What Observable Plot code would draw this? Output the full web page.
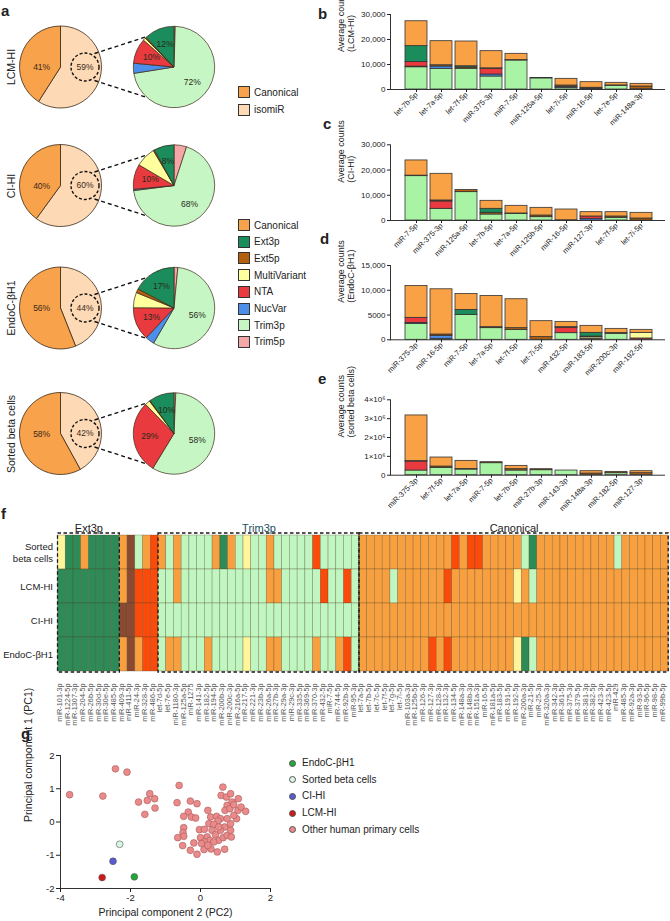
<!DOCTYPE html>
<html><head><meta charset="utf-8">
<script src="https://cdn.jsdelivr.net/npm/d3@7"></script>
<script src="https://cdn.jsdelivr.net/npm/@observablehq/plot@0.6"></script>
<style>
body{margin:0;background:#fff;font-family:"Liberation Sans",Arial,Helvetica,sans-serif;color:#222;}
#root{position:relative;width:670px;height:921px;overflow:hidden;background:#fff;}
#root svg{overflow:visible;}
.t{position:absolute;white-space:nowrap;line-height:1;}
.sw{position:absolute;width:12px;height:12px;border:1px solid #333;box-sizing:border-box;}
.dotl{position:absolute;width:7px;height:7px;border-radius:50%;box-sizing:border-box;border:0.7px solid #555;}
</style></head><body><div id="root"></div>
<script>
// ---------------- DATA ----------------
const legendTypes = ["Canonical","Ext3p","Ext5p","MultiVariant","NTA","NucVar","Trim3p","Trim5p"];
const stackTypes = ["Trim3p","Trim5p","NucVar","NTA","MultiVariant","Ext5p","Ext3p","Canonical"]; // bottom -> top

// panel a
const pieSamples = ["LCM-HI","CI-HI","EndoC-βH1","Sorted beta cells"];
const canonicalPct = [41, 40, 56, 58];
const isomirPct = [59, 60, 44, 42];
const isoTypes = ["Ext3p","Ext5p","MultiVariant","NTA","NucVar","Trim3p","Trim5p"];
const isoLCM = [12, 0.5, 1, 10, 4, 72, 0.5];
const isoCI = [8, 0.5, 8, 10, 0.5, 68, 5];
const isoEndo = [17, 1.5, 6, 13, 3.5, 56, 1.5];
const isoSorted = [10, 0.3, 2, 29, 0, 58, 0.7];
const isoLabelled = ["Ext3p","NTA","Trim3p"];

// panels b-e : segments per bar in stackTypes order
const bNames = ["let-7b-5p","let-7a-5p","let-7f-5p","miR-375-3p","miR-7-5p","miR-125a-5p","let-7i-5p","miR-16-5p","let-7e-5p","miR-148a-3p"];
const bValues = [
 [8900,0,250,1800,0,0,6400,9950],
 [8270,0,930,0,0,500,0,9630],
 [8300,0,0,0,0,500,500,9900],
 [5200,0,800,2270,0,200,0,6860],
 [11600,0,0,0,0,150,0,2520],
 [4450,0,0,0,0,150,0,0],
 [670,0,400,0,0,530,0,2670],
 [200,0,200,0,0,300,0,2230],
 [1500,0,0,0,0,150,0,1020],
 [100,0,0,0,0,1100,0,1070]
];
const cNames = ["miR-7-5p","miR-375-3p","miR-125a-5p","let-7b-5p","let-7a-5p","miR-125b-5p","miR-16-5p","miR-127-3p","let-7f-5p","let-7i-5p"];
const cValues = [
 [17580,0,0,0,0,200,0,6020],
 [4630,0,0,2910,0,400,0,10560],
 [11240,0,0,0,0,860,0,0],
 [2380,0,0,0,0,660,1590,3170],
 [2640,0,0,0,0,150,0,3030],
 [1320,0,0,0,0,660,0,3040],
 [0,0,0,0,0,100,0,4260],
 [0,0,660,930,0,0,0,1710],
 [1060,0,0,0,0,530,0,1710],
 [0,0,0,0,0,790,0,2250]
];
const dNames = ["miR-375-3p","miR-16-5p","miR-7-5p","let-7a-5p","let-7f-5p","let-7i-5p","miR-432-5p","miR-183-5p","miR-200c-3p","miR-192-5p"];
const dValues = [
 [3220,0,200,1010,0,0,0,6440],
 [200,0,600,0,0,270,0,9130],
 [5030,0,0,0,0,0,1010,3220],
 [2350,0,0,0,0,200,0,6310],
 [2010,0,0,0,0,340,0,5840],
 [0,0,0,0,0,540,0,3220],
 [1340,0,0,1080,0,130,0,1070],
 [0,0,0,200,300,150,760,1410],
 [1210,0,0,0,0,150,0,850],
 [0,0,0,270,1140,0,0,600]
];
const eNames = ["miR-375-3p","let-7f-5p","let-7a-5p","miR-7-5p","let-7b-5p","miR-27b-3p","miR-143-3p","miR-148a-3p","miR-182-5p","miR-127-3p"];
const eValues = [
 [248000,0,0,478000,0,20000,0,2424000],
 [389000,0,0,0,0,71000,0,478000],
 [300000,0,0,0,0,30000,0,431000],
 [637000,0,0,0,0,53000,0,0],
 [248000,0,0,0,0,72000,0,175000],
 [265000,0,0,0,0,53000,0,0],
 [248000,0,0,0,0,0,0,0],
 [0,0,0,0,0,88000,0,124000],
 [106000,0,0,0,0,71000,0,0],
 [0,0,0,0,0,106000,0,106000]
];
const bTicks = [0,10000,20000,30000];
const cTicks = [0,10000,20000,30000];
const dTicks = [0,5000,10000,15000];
const eTicks = [0,1e6,2e6,3e6,4e6];

// panel f
const hmRowNames = ["Sorted beta cells","LCM-HI","CI-HI","EndoC-βH1"];
const hmRowLabels = ["Sorted\nbeta cells","LCM-HI","CI-HI","EndoC-βH1"];
const hmColumns = ["miR-101-3p","miR-1224-5p","miR-1307-3p","miR-204-5p","miR-26b-5p","miR-30d-5p","miR-30e-5p","miR-485-5p","miR-409-3p","miR-411-5p","miR-24-3p","miR-328-3p","miR-486-5p","let-7d-5p","let-7e-5p","miR-1180-3p","miR-125a-5p","miR-1275","miR-141-3p","miR-182-5p","miR-194-5p","miR-200b-3p","miR-200c-3p","miR-216a-5p","miR-217-5p","miR-221-3p","miR-23b-3p","miR-26a-5p","miR-27b-3p","miR-29a-3p","miR-29c-3p","miR-335-5p","miR-369-5p","miR-370-3p","miR-432-5p","miR-7-5p","miR-744-5p","miR-92b-3p","miR-95-3p","let-7a-5p","let-7b-5p","let-7c-5p","let-7f-5p","let-7g-5p","let-7i-5p","miR-103a-3p","miR-125b-5p","miR-126-3p","miR-127-3p","miR-128-3p","miR-132-3p","miR-134-5p","miR-148a-3p","miR-148b-3p","miR-151a-3p","miR-16-5p","miR-181a-5p","miR-183-5p","miR-191-5p","miR-192-5p","miR-200a-3p","miR-21-5p","miR-25-3p","miR-320a-3p","miR-342-3p","miR-361-5p","miR-375-3p","miR-379-5p","miR-381-3p","miR-382-5p","miR-423-3p","miR-423-5p","miR-429","miR-485-3p","miR-92a-3p","miR-93-5p","miR-96-5p","miR-98-5p","miR-99b-5p"];
// E=Ext3p B=Ext5p Y=MultiVariant N=NTA T=Trim3p C=Canonical
const hmSorted = ("YEECEEEE"+"CBTCN"+"CTCTTTTCECTYTTCTTTTTNTTTTT"+"CCCCCCCCCCCCNCNNCCCCCTECCCCCCCCCCTCCCCCC").split("");
const hmLCM    = ("EEEEEEEE"+"CBNNN"+"TTCTTTTTTTTTTTCCTTTTTNTTNT"+"CCCCTCCCCCCNCCCCCCCCYCTCCCCCCCCCCCCCCCCC").split("");
const hmCI     = ("EEEEEEEE"+"BBNNN"+"TTTTTTTTTTTTTTTTTTTTTTTTTT"+"CCCCCCCCCCCCCCCCCCCCCCCCCCCCCCCCCCCCCCCC").split("");
const hmEndo   = ("EEEEEEEE"+"CBCNN"+"TCCTTTCTTTTYTTCCTTTTCTTCNT"+"CCCCCCCCCNCNCCCCCCCCYETCCCCCCCCCCCCCCCCC").split("");
const hmBlockNames = ["Ext3p","Trim3p","Canonical"];
const hmBlockStart = [0, 13, 39];
const hmBlockEnd = [8, 39, 79];

// panel g
const pcSpecialNames = ["EndoC-βH1","Sorted beta cells","CI-HI","LCM-HI"];
const pcSpecialX = [-1.89, -2.31, -2.50, -2.81];
const pcSpecialY = [-1.65, -0.67, -1.18, -1.67];
const pcOtherX = [-3.74,-2.43,-2.10,-2.79,-1.77,-1.45,-1.52,-1.31,-1.30,-1.59,-0.61,-0.67,-0.29,-0.10,-0.35,-0.48,-0.26,-0.14,-0.48,-0.50,-0.48,-0.65,-0.51,-0.19,-0.29,-0.10,0.10,0.30,0.48,0.69,0.00,-0.03,0.11,0.19,0.24,0.21,0.29,0.46,0.57,0.50,0.38,0.33,0.43,0.27,0.11,0.52,0.65,0.76,0.86,0.88,0.86,0.76,0.64,0.59,0.74,0.86,0.90,0.76,0.70,0.84,0.95,1.08,1.07,1.16,1.29,1.03,0.95,0.69,0.57,0.03,0.52,0.38,0.21];
const pcOtherY = [0.82,1.60,1.50,0.78,0.60,0.85,0.65,0.70,0.42,0.23,1.10,0.58,0.63,0.55,0.30,0.17,0.15,0.12,-0.17,-0.32,-0.43,-0.47,-0.71,-0.63,-0.85,-0.97,-0.83,-0.81,-0.90,-0.82,-0.47,-0.23,-0.22,-0.45,-0.05,0.35,0.15,0.17,0.10,0.03,-0.07,-0.25,-0.38,-0.55,-0.60,-0.55,-0.47,-0.40,-0.25,-0.45,-0.05,0.10,1.05,0.80,0.75,0.85,0.60,0.50,0.35,0.40,0.52,0.70,0.35,0.45,0.32,0.10,0.20,-0.15,-0.25,-0.65,-0.15,-0.60,-0.70];
const pcTicksX = [-4,-2,0,2];
const pcTicksY = [-2,-1,0,1,2];

// ---------------- STYLES ----------------
const FONT = '"Liberation Sans", Arial, Helvetica, sans-serif';
const pieColors = {Canonical:"#f8a24b", isomiR:"#fdd9b6", Ext3p:"#1b8c5b", Ext5p:"#b4600e", MultiVariant:"#ffff9e", NTA:"#e83a3f", NucVar:"#4c8fea", Trim3p:"#c6f6c3", Trim5p:"#f5a6a6"};
const barColors = {Canonical:"#f9a145", Ext3p:"#1b8c5b", Ext5p:"#b4600e", MultiVariant:"#ffff9e", NTA:"#ea3a3f", NucVar:"#4c8fea", Trim3p:"#a9f3a4", Trim5p:"#f5a6a6"};
const hmCodes = ["E","B","Y","N","T","C"];
const hmColors = ["#2e8b57","#8a4a32","#fff59a","#fb4b0b","#c0f6c0","#f8a040"];
const specialColors = ["#22a836","#d9f5e6","#5a5ad0","#d01818"];

const root = document.getElementById("root");
function place(node, left, top){ node.style.position="absolute"; node.style.left=left+"px"; node.style.top=top+"px"; root.appendChild(node); return node; }
function txt(s, left, top, css){ const d=document.createElement("div"); d.className="t"; d.textContent=s; Object.assign(d.style,{left:left+"px",top:top+"px"},css||{}); root.appendChild(d); return d; }

// panel letters
[["a",1,3],["b",318,6],["c",323,116],["d",320,231],["e",318,371],["f",1,506],["g",21,726]].forEach(([s,x,y])=>txt(s,x,y,{fontWeight:"bold",fontSize:"15px"}));

// ---------------- PANEL a (pies) ----------------
const pieCY = [67, 185.5, 308, 433.5];
const leftCX = 60.5, rightCX = 174, RL = 41, RR = 40.7;
const isoAll = [isoLCM, isoCI, isoEndo, isoSorted];
function drawPies(){
  const g = d3.create("svg:g").attr("font-family", FONT);
  pieSamples.forEach((s,k)=>{
    const cy = pieCY[k];
    const leftData = [{type:"isomiR", v: isomirPct[k]}, {type:"Canonical", v: canonicalPct[k]}];
    const arcsL = d3.pie().sort(null).value(d=>d.v)(leftData);
    const arcL = d3.arc().innerRadius(0).outerRadius(RL);
    const gl = g.append("g").attr("transform",`translate(${leftCX},${cy})`);
    gl.selectAll("path").data(arcsL).join("path").attr("d",arcL)
      .attr("fill",d=>pieColors[d.data.type]).attr("stroke","#3b2a18").attr("stroke-width",0.8);
    gl.append("text").attr("x",-RL*0.46).attr("y",1).attr("text-anchor","middle").attr("dominant-baseline","middle")
      .attr("font-size",8.5).attr("fill","#3a2a1a").text(canonicalPct[k]+"%");
    const ccx = 24.5, cr = 14;
    gl.append("circle").attr("cx",ccx).attr("cy",0).attr("r",cr).attr("fill","none").attr("stroke","#111").attr("stroke-width",1.4).attr("stroke-dasharray","3,2");
    gl.append("text").attr("x",ccx).attr("y",0.5).attr("text-anchor","middle").attr("dominant-baseline","middle")
      .attr("font-size",8.5).attr("fill","#3a2a1a").text(isomirPct[k]+"%");
    // connectors
    const sx = leftCX+ccx+9.5, ex = rightCX-0.69*RR;
    [-1,1].forEach(sg=>{
      g.append("line").attr("x1",sx).attr("y1",cy+sg*13.5).attr("x2",ex).attr("y2",cy+sg*0.74*RR)
        .attr("stroke","#111").attr("stroke-width",1.4).attr("stroke-dasharray","4,3");
    });
    // right pie, clockwise from top in reverse legend order
    const iso = isoAll[k];
    const rightData = isoTypes.map((t,i)=>({type:t, v: iso[i]})).reverse();
    const arcsR = d3.pie().sort(null).value(d=>d.v)(rightData);
    const arcR = d3.arc().innerRadius(0).outerRadius(RR);
    const labArc = d3.arc().innerRadius(RR*0.6).outerRadius(RR*0.6);
    const gr = g.append("g").attr("transform",`translate(${rightCX},${cy})`);
    gr.selectAll("path").data(arcsR.filter(d=>d.data.v>0)).join("path").attr("d",arcR)
      .attr("fill",d=>pieColors[d.data.type]).attr("stroke","#3b2a18").attr("stroke-width",0.7);
    arcsR.filter(d=>isoLabelled.includes(d.data.type)).forEach(d=>{
      const [lx,ly] = labArc.centroid(d);
      gr.append("text").attr("x",lx).attr("y",ly).attr("text-anchor","middle").attr("dominant-baseline","middle")
        .attr("font-size",8.5).attr("fill","#2a2a1a").text(d.data.v+"%");
    });
  });
  return g.node();
}
let pieSvg;
try {
  pieSvg = Plot.plot({width:235, height:485, margin:0, style:{background:"transparent",overflow:"visible"}, marks:[()=>drawPies()]});
} catch(err) {
  pieSvg = d3.create("svg").attr("width",235).attr("height",485).node();
  pieSvg.appendChild(drawPies());
}
place(pieSvg, 0, 0);
// pie row labels
pieSamples.forEach((s,k)=>{
  txt(s, 11, pieCY[k], {fontSize:"10.5px", transform:"translate(-50%,-50%) rotate(-90deg)"});
});
// legends a
function swatch(color, x, y, label){
  const d=document.createElement("div"); d.className="sw"; d.style.background=color; place(d,x,y);
  txt(label, x+16, y+1.5, {fontSize:"10px"});
}
swatch(pieColors.Canonical, 238, 86, "Canonical");
swatch(pieColors.isomiR, 238, 103.5, "isomiR");
legendTypes.forEach((t,i)=> swatch(pieColors[t], 238, 219 + i*16.7, t));

// ---------------- PANELS b-e ----------------
function barChart(names, values, ticks, fmt, title, top, mt, mb, H){
  const data = [];
  names.forEach((n,i)=> values[i].forEach((v,j)=>{ if(v>0) data.push({name:n, type:stackTypes[j], value:v}); }));
  const svg = Plot.plot({
    width: 340, height: H, marginLeft: 60, marginRight: 5, marginTop: mt, marginBottom: mb,
    style: {background:"transparent", fontFamily: FONT, fontSize:"8px", color:"#222", overflow:"visible"},
    x: {domain: names, padding: 0.14, insetLeft: 8.4, insetRight: 7, label: null},
    y: {domain: [0, ticks[ticks.length-1]], label: null},
    color: {domain: legendTypes, range: legendTypes.map(t=>barColors[t])},
    marks: [
      Plot.barY(data, {x:"name", y:"value", fill:"type", order: stackTypes, stroke:"#333", strokeWidth:0.8}),
      Plot.frame({anchor:"left", stroke:"#333", strokeWidth:1}),
      Plot.ruleY([0], {stroke:"#333", strokeWidth:1}),
      Plot.axisY({ticks, tickFormat: fmt, tickSize:3, tickPadding:2, fontSize:8, label:null}),
      Plot.axisX({tickRotate:-45, tickSize:3, tickPadding:1, fontSize:7.5, label:null}),
      Plot.text([title], {frameAnchor:"left", rotate:-90, dx:-45, fontSize:9, lineHeight:1.2, fill:"#222"})
    ]
  });
  place(svg, 330, top);
}
const fmtComma = d => d3.format(",")(d);
barChart(bNames, bValues, bTicks, fmtComma, "Average counts\n(LCM-HI)", 0, 14, 46, 135);
barChart(cNames, cValues, cTicks, fmtComma, "Average counts\n(CI-HI)", 130, 14.3, 45, 135);
barChart(dNames, dValues, dTicks, d => d >= 10000 ? d3.format(",")(d) : String(d), "Average counts\n(EndoC-βH1)", 255, 10, 45.7, 130);
barChart(eNames, eValues, eTicks, d => d === 0 ? "0" : `${d/1e6}×10⁶`, "Average counts\n(sorted beta cells)", 385, 14.3, 45.3, 135);

// ---------------- PANEL f (heatmap) ----------------
const hmRows = [hmSorted, hmLCM, hmCI, hmEndo];
const hmData = [];
hmRows.forEach((r,ri)=> r.forEach((code,ci)=> hmData.push({row: hmRowNames[ri], col: ci, code})));
const hmBlocks = hmBlockNames.map((n,i)=>({name:n, start:hmBlockStart[i], end:hmBlockEnd[i]}));
const hmSvg = Plot.plot({
  width: 670, height: 225, marginLeft: 57.5, marginRight: 1.8, marginTop: 28, marginBottom: 58,
  style: {background:"transparent", fontFamily: FONT, overflow:"visible"},
  x: {domain:[0, hmColumns.length], axis:null},
  y: {domain: hmRowNames, padding:0, axis:null},
  color: {domain: hmCodes, range: hmColors},
  marks: [
    Plot.barX(hmData, {x1:"col", x2: d=>d.col+1, y:"row", fill:"code", stroke:"#4f3f22", strokeWidth:0.5, strokeOpacity:0.55}),
    Plot.rect(hmBlocks, {x1:"start", x2:"end", fill:"none", stroke:"#1a1a1a", strokeWidth:1.3, strokeDasharray:"3.5,2.5"}),
    Plot.text(hmBlocks.filter(b=>b.name!=="Trim3p"), {x: d=>(d.start+d.end)/2, text:"name", frameAnchor:"top", dy:-9, fontSize:11, fill:"#222"}),
    Plot.text(hmBlocks.filter(b=>b.name==="Trim3p"), {x: d=>(d.start+d.end)/2, text:"name", frameAnchor:"top", dy:-9, fontSize:11, fill:"#22505f"}),
    Plot.text(hmRowNames, {y: d=>d, text: (d,i)=>hmRowLabels[i], frameAnchor:"left", textAnchor:"end", dx:-5, fontSize:9.5, lineHeight:1.2, fill:"#222"}),
    Plot.text(hmColumns, {x: (d,i)=>i+0.5, text: d=>d, frameAnchor:"bottom", rotate:-90, textAnchor:"end", dy:11, fontSize:7.3, fill:"#555"})
  ]
});
place(hmSvg, 0, 505);

// ---------------- PANEL g (PCA) ----------------
const pcOther = pcOtherX.map((x,i)=>({x, y: pcOtherY[i]}));
const pcSpecial = pcSpecialNames.map((n,i)=>({name:n, x: pcSpecialX[i], y: pcSpecialY[i]}));
const pcSvg = Plot.plot({
  width: 290, height: 176, marginLeft: 60, marginRight: 20, marginTop: 10, marginBottom: 33,
  style: {background:"transparent", fontFamily: FONT, fontSize:"9.5px", color:"#222", overflow:"visible"},
  x: {domain:[-4,2], label:null},
  y: {domain:[-2,2], label:null},
  color: {domain: pcSpecialNames, range: specialColors},
  marks: [
    Plot.ruleY([-2], {stroke:"#333", strokeWidth:1}),
    Plot.ruleX([-4], {stroke:"#333", strokeWidth:1}),
    Plot.axisX({ticks: pcTicksX, tickFormat: d=>String(d), tickSize:4, tickPadding:2, fontSize:9.5, label:null}),
    Plot.axisY({ticks: pcTicksY, tickFormat: d=>String(d), tickSize:4, tickPadding:2, fontSize:9.5, label:null}),
    Plot.dot(pcOther, {x:"x", y:"y", r:3.4, fill:"#ea8a8a", stroke:"#a85a5a", strokeWidth:0.6}),
    Plot.dot(pcSpecial, {x:"x", y:"y", r:3.4, fill:"name", stroke:"#555", strokeWidth:0.6}),
    Plot.text(["Principal component 2 (PC2)"], {frameAnchor:"bottom", dy:27, fontSize:10.5, fill:"#222"}),
    Plot.text(["Principal component 1 (PC1)"], {frameAnchor:"left", rotate:-90, dx:-32, fontSize:10.5, fill:"#222"})
  ]
});
place(pcSvg, 0, 745);
// legend g
const pcLegNames = pcSpecialNames.concat(["Other human primary cells"]);
const pcLegColors = specialColors.concat(["#ea8a8a"]);
pcLegNames.forEach((n,i)=>{
  const y = 763 + i*16.7;
  const d=document.createElement("div"); d.className="dotl"; d.style.background=pcLegColors[i]; place(d, 288.5, y-3.5);
  txt(n, 302, y-5, {fontSize:"10px"});
});
</script></body></html>
